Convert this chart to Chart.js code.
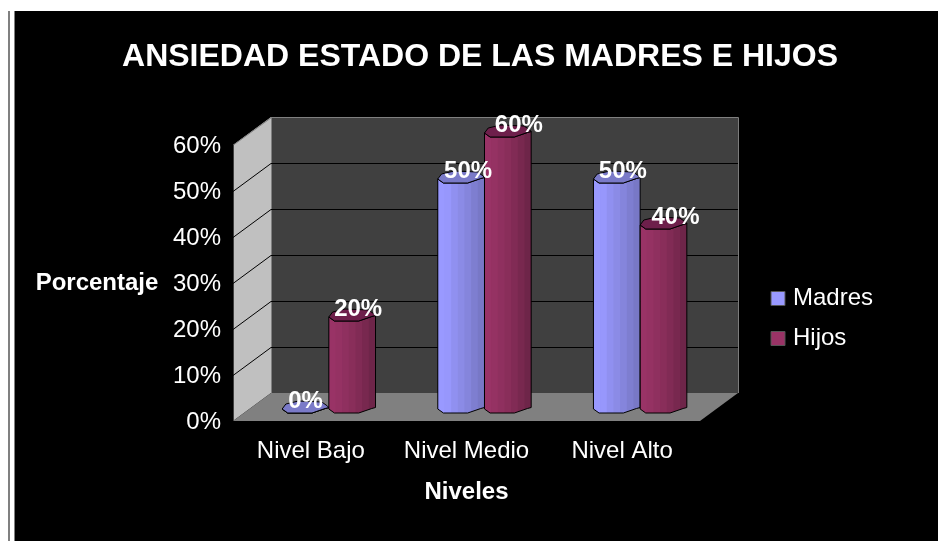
<!DOCTYPE html>
<html lang="es">
<head>
<meta charset="utf-8">
<title>Ansiedad estado</title>
<style>
  html, body { margin: 0; padding: 0; background: #fff; overflow: hidden; }
  #edge { position: absolute; left: 8px; top: 11px; width: 4px; height: 530px; background: #fff;
          border-left: 2px solid #808080; border-right: 1px solid #808080; }
  #wrap { position: absolute; left: 15px; top: 11px; width: 923px; height: 530px; background: #000; }
</style>
</head>
<body>
<div id="edge"></div>
<div id="wrap"><canvas id="chart" width="923" height="530"></canvas></div>
<script src="https://cdn.jsdelivr.net/npm/chart.js@4"></script>
<script>
const categories = ["Nivel Bajo", "Nivel Medio", "Nivel Alto"];
const madres = [0, 50, 50];
const hijos = [20, 60, 40];
const seriesNames = ["Madres", "Hijos"];

// Box depth, and how far into it the columns stand
const DEPTH_X = 38;
const DEPTH_Y = -28;
const BAR_X = 18;
const BAR_Y = -14;

const FONT = "'Liberation Sans', Arial, sans-serif";

// Octagonal column outline: [fraction of width, px from the top centre]
const frontEdge = [[0, 2], [0.12, 6], [0.64, 6], [0.92, 1.5], [1, 0.5]];
const backEdge = [[0.97, -1], [0.85, -5], [0.35, -6], [0.08, -3]];

const barStyles = [
  {
    bands: ["#9999ff", "#9797fc", "#9090f0", "#8b8be6", "#8585dc", "#7e7ed0", "#7878c6"],
    cap: "#7a7ac8",
  },
  {
    bands: ["#993366", "#953263", "#8f305f", "#892e5a", "#812b55", "#78284f", "#6e2549"],
    cap: "#6e1f4b",
  },
];

// Label nudges per series, the text sits a little right of each column
const labelShift = [[0, 7, 6], [6, 11, 12]];

function tracePolygon(ctx, points) {
  ctx.beginPath();
  points.forEach(([x, y], i) => (i ? ctx.lineTo(x, y) : ctx.moveTo(x, y)));
  ctx.closePath();
}

function drawColumn(ctx, el, style) {
  const left = el.x - el.width / 2;
  const at = (cy) => ([f, dy]) => [left + f * el.width, cy + dy];

  // body
  const top = frontEdge.map(at(el.y));
  const bottom = frontEdge.map(at(el.base)).reverse();
  ctx.save();
  tracePolygon(ctx, top.concat(bottom));
  ctx.save();
  ctx.clip();
  const bandWidth = el.width / style.bands.length;
  style.bands.forEach((color, i) => {
    ctx.fillStyle = color;
    ctx.fillRect(left + i * bandWidth, el.y - 10, bandWidth + 1, el.base - el.y + 20);
  });
  ctx.restore();
  ctx.strokeStyle = "#000";
  ctx.lineWidth = 1;
  ctx.stroke();

  // cap
  tracePolygon(ctx, top.concat(backEdge.map(at(el.y))));
  ctx.fillStyle = style.cap;
  ctx.fill();
  ctx.stroke();
  ctx.restore();
}

const boxPlugin = {
  id: "box",
  afterLayout(chart) {
    // title centred a little right of the canvas middle, legend lower down
    chart.titleBlock.left = 7;
    chart.titleBlock.right = chart.width;
    chart.legend.left = 744;
    chart.legend.right = chart.width;
    chart.legend.top = 259.5;
    chart.legend.bottom = chart.height;
    // value labels sit one pixel below their tick position
    chart.scales.y.getLabelItems(chart.chartArea).forEach((item) => {
      item.options.translation[1] += 1;
    });
  },
  beforeDatasetsDraw(chart) {
    const { ctx, chartArea: a, scales: { y } } = chart;
    const bx = DEPTH_X, by = DEPTH_Y;
    ctx.save();
    // side wall
    ctx.fillStyle = "#c0c0c0";
    tracePolygon(ctx, [[a.left, a.top], [a.left + bx, a.top + by], [a.left + bx, a.bottom + by], [a.left, a.bottom]]);
    ctx.fill();
    // back wall
    ctx.fillStyle = "#404040";
    ctx.fillRect(a.left + bx, a.top + by, a.right - a.left, a.bottom - a.top);
    // floor
    ctx.fillStyle = "#808080";
    tracePolygon(ctx, [[a.left, a.bottom], [a.left + bx, a.bottom + by], [a.right + bx, a.bottom + by], [a.right, a.bottom]]);
    ctx.fill();
    // wall edges
    ctx.strokeStyle = "#808080";
    ctx.lineWidth = 1;
    ctx.beginPath();
    ctx.moveTo(a.left + 0.5, a.top);
    ctx.lineTo(a.left + bx + 0.5, a.top + by + 0.5);
    ctx.lineTo(a.right + bx + 0.5, a.top + by + 0.5);
    ctx.lineTo(a.right + bx + 0.5, a.bottom + by);
    ctx.moveTo(a.left + bx + 0.5, a.top + by);
    ctx.lineTo(a.left + bx + 0.5, a.bottom + by);
    ctx.stroke();
    ctx.strokeStyle = "#404040";
    ctx.beginPath();
    ctx.moveTo(a.left + 0.5, a.top);
    ctx.lineTo(a.left + 0.5, a.bottom);
    ctx.stroke();
    // grid, skipping the floor and the top edge
    ctx.strokeStyle = "#000";
    y.ticks.forEach((t) => {
      if (t.value <= y.min || t.value >= y.max) return;
      const py = Math.round(y.getPixelForValue(t.value)) + 0.5;
      ctx.beginPath();
      ctx.moveTo(a.left, py);
      ctx.lineTo(a.left + bx, py + by);
      ctx.lineTo(a.right + bx, py + by);
      ctx.stroke();
    });
    ctx.restore();
  },
  beforeDatasetDraw() {
    return false; // columns are painted below, in series order
  },
  afterDatasetsDraw(chart) {
    const { ctx, chartArea: a, scales: { y } } = chart;
    ctx.save();
    ctx.translate(BAR_X, BAR_Y);
    chart.data.datasets.forEach((ds, s) => {
      chart.getDatasetMeta(s).data.forEach((el) => drawColumn(ctx, el, barStyles[s]));
    });
    ctx.fillStyle = "#fff";
    ctx.font = "bold 24px " + FONT;
    ctx.textAlign = "center";
    ctx.textBaseline = "middle";
    chart.data.datasets.forEach((ds, s) => {
      chart.getDatasetMeta(s).data.forEach((el, i) => {
        ctx.fillText(ds.data[i] + "%", el.x + labelShift[s][i], el.y - 6);
      });
    });
    ctx.restore();

    // vertical axis name stays horizontal
    ctx.save();
    ctx.fillStyle = "#fff";
    ctx.font = "bold 24px " + FONT;
    ctx.textAlign = "center";
    ctx.textBaseline = "middle";
    ctx.fillText("Porcentaje", a.left - 136, (y.top + y.bottom) / 2);
    ctx.restore();
  },
};

new Chart(document.getElementById("chart"), {
  type: "bar",
  data: {
    labels: categories,
    datasets: [
      { label: seriesNames[0], data: madres, backgroundColor: "#9999ff", borderColor: "#555", borderWidth: 1 },
      { label: seriesNames[1], data: hijos, backgroundColor: "#993366", borderColor: "#555", borderWidth: 1 },
    ],
  },
  options: {
    responsive: false,
    animation: false,
    categoryPercentage: 0.6,
    barPercentage: 1,
    layout: { padding: { left: 158, right: 114, top: 0, bottom: 0 } },
    scales: {
      x: {
        grid: { display: false },
        border: { display: false },
        ticks: { color: "#fff", font: { family: FONT, size: 24 }, padding: 8, maxRotation: 0 },
        title: {
          display: true,
          text: "Niveles",
          color: "#fff",
          font: { family: FONT, size: 24, weight: "bold" },
          padding: { top: 10, bottom: 34 },
        },
        afterFit(scale) { scale.height = 120; },
      },
      y: {
        min: 0,
        max: 60,
        grid: { display: false, drawTicks: false },
        border: { display: false },
        ticks: {
          stepSize: 10,
          color: "#fff",
          font: { family: FONT, size: 24 },
          padding: 12,
          callback: (v) => v + "%",
        },
        afterFit(scale) { scale.width = 60; },
      },
    },
    plugins: {
      title: {
        display: true,
        text: "ANSIEDAD ESTADO DE LAS MADRES E HIJOS",
        color: "#fff",
        font: { family: FONT, size: 32, weight: "bold" },
        padding: { top: 27, bottom: 68.6 },
      },
      legend: {
        position: "right",
        align: "start",
        labels: {
          color: "#fff",
          font: { family: FONT, size: 24 },
          usePointStyle: true,
          pointStyle: "rect",
          boxWidth: 6,
          boxHeight: 14,
          padding: 16,
        },
      },
      tooltip: { enabled: false },
    },
  },
  plugins: [boxPlugin],
});
</script>
</body>
</html>
